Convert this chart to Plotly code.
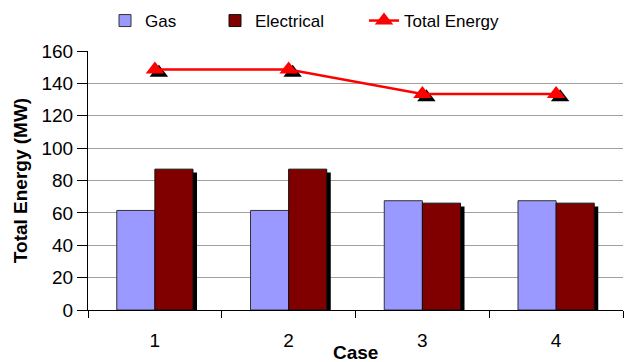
import numpy as np
import plotly.graph_objects as go

cases = [1, 2, 3, 4]
case_labels = ["1", "2", "3", "4"]
gas = [61.5, 61.5, 67.5, 67.5]
electrical = [87, 87, 66, 66]
total_energy = [148.5, 148.5, 133.5, 133.5]
y_ticks = [0, 20, 40, 60, 80, 100, 120, 140, 160]

BAR_W = 0.285
SHADOW_DX = 0.03
SHADOW_DY = 2.0
W, H = 625, 362
FONT = "Liberation Sans, Arial, sans-serif"

x = np.array(cases, dtype=float)
fig = go.Figure()

fig.add_trace(go.Bar(x=x, y=np.array(electrical) - SHADOW_DY, offset=SHADOW_DX, width=BAR_W,
                     marker=dict(color="black", line=dict(width=0)), showlegend=False, hoverinfo="skip"))
fig.add_trace(go.Bar(x=x, y=gas, name="Gas", offset=-BAR_W, width=BAR_W, legend="legend",
                     marker=dict(color="#9999FF", line=dict(color="#333333", width=1))))
fig.add_trace(go.Bar(x=x, y=electrical, name="Electrical", offset=0, width=BAR_W, legend="legend2",
                     marker=dict(color="#800000", line=dict(color="#111111", width=1))))
fig.add_trace(go.Scatter(x=x + SHADOW_DX, y=np.array(total_energy) - SHADOW_DY, mode="markers",
                         marker=dict(symbol="triangle-up", size=16, color="black"),
                         showlegend=False, hoverinfo="skip"))
fig.add_trace(go.Scatter(x=x, y=total_energy, name="Total Energy", mode="lines+markers", legend="legend3",
                         line=dict(color="#FF0000", width=2.5),
                         marker=dict(symbol="triangle-up", size=16, color="#FF0000")))

leg_common = dict(orientation="h", xref="container", yref="container", xanchor="left",
                  y=1 - 21 / H, yanchor="middle", font=dict(size=17, family=FONT),
                  bgcolor="rgba(0,0,0,0)", borderwidth=0)

fig.update_layout(
    width=W, height=H,
    margin=dict(l=88, r=2, t=51, b=52, autoexpand=False),
    barmode="overlay",
    plot_bgcolor="white", paper_bgcolor="white",
    font=dict(family=FONT, size=19, color="black"),
    legend=dict(x=105 / W, **leg_common),
    legend2=dict(x=215 / W, **leg_common),
    legend3=dict(x=364 / W, **leg_common),
    xaxis=dict(range=[0.5, 4.5], tickvals=cases, ticktext=case_labels, automargin=False,
               ticks="outside", ticklen=13, tickcolor="rgba(0,0,0,0)",
               showline=True, linecolor="black", linewidth=1, showgrid=False, zeroline=False,
               minor=dict(tick0=0.5, dtick=1, ticks="outside", ticklen=7, tickcolor="black", showgrid=False)),
    yaxis=dict(range=[0, 160], tickvals=y_ticks, ticks="outside", ticklen=10, tickcolor="black",
               automargin=False,
               showline=True, linecolor="black", linewidth=1,
               showgrid=True, gridcolor="#A0A0A0", gridwidth=1, zeroline=False,
               title=dict(text="<b>Total Energy (MW)</b>", standoff=8, font=dict(size=19))),
    annotations=[dict(text="<b>Case</b>", xref="paper", yref="paper", x=0.5, y=-(352 - 309.5) / 258,
                      xanchor="center", yanchor="middle", showarrow=False, font=dict(size=19))],
)

fig.write_html("out.html", config={"displayModeBar": False},
               post_script="document.body.style.margin='0';")
